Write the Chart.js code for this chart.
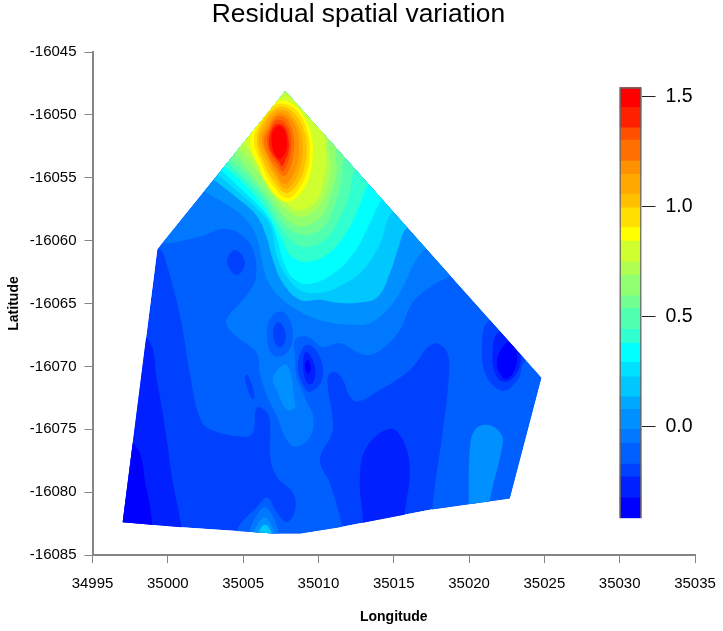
<!DOCTYPE html>
<html>
<head>
<meta charset="utf-8">
<style>
html,body{margin:0;padding:0;background:#fff;width:723px;height:631px;overflow:hidden}
canvas{position:absolute;display:block}
</style>
<script src="https://cdn.jsdelivr.net/npm/chart.js@4/dist/chart.umd.min.js"></script>
</head>
<body>
<canvas id="map" width="723" height="631" style="left:0;top:0"></canvas>
<canvas id="bar" width="123" height="480" style="left:600px;top:60px"></canvas>
<script>
const chartTitle = "Residual spatial variation";
const xAxisTitle = "Longitude";
const yAxisTitle = "Latitude";
const lonTicks = [34995,35000,35005,35010,35015,35020,35025,35030,35035];
const latTicks = [-16045,-16050,-16055,-16060,-16065,-16070,-16075,-16080,-16085];
const legendTicks = [0,0.5,1,1.5];
// colour-bar band edges, bottom to top
const bandEdges = [-0.416,-0.323,-0.227,-0.170,-0.075,-0.012,0.079,0.136,0.227,0.293,0.379,0.443,0.538,0.595,0.690,0.750,0.844,0.905,0.995,1.058,1.147,1.208,1.303,1.359,1.452,1.543];
const bandColors = ["#0000FF","#0020FF","#0040FF","#0060FF","#0078FF","#0090FF","#00A8FF","#00C8FF","#00E0FF","#00FFFF","#30FFD0","#50FFB0","#70FF90","#90FF70","#B0FF50","#D0FF30","#FFFF00","#FFE000","#FFC000","#FFA800","#FF9000","#FF7000","#FF5000","#FF2000","#FF0000"];

// Contour regions: [longitude, latitude]
const outline = [[35007.8,-16048.1],[34999.3,-16060.7],[34997.0,-16082.4],[35000.9,-16082.8],[35004.6,-16083.1],[35007.0,-16083.3],[35008.8,-16083.3],[35011.4,-16082.8],[35017.4,-16081.4],[35022.7,-16080.5],[35024.8,-16070.9]];
const wedgeA = [[34995.5,-16067.1],[34998.55,-16067.7],[34999.3,-16071.3],[34999.9,-16075.6],[35000.3,-16079],[35000.9,-16082.8],[35000.9,-16084.2],[34995.5,-16084.2]];
const wedgeB = [[34995.5,-16076.2],[34997.75,-16076.2],[34998.6,-16079.8],[34998.95,-16082.4],[34998.95,-16084.2],[34995.5,-16084.2]];
const level60 = [[34998.15,-16059.9],[34999.5,-16060.7],[35000,-16062.2],[35000.4,-16063.9],[35000.9,-16066.5],[35001.5,-16070.8],[35002.1,-16074],[35002.8,-16075],[35005,-16075.6],[35005.65,-16075.3],[35005.9,-16073.3],[35006.6,-16073.7],[35006.8,-16075],[35006.8,-16077.2],[35007.25,-16078.8],[35008.3,-16080.05],[35008.45,-16081.4],[35007.9,-16082.4],[35007.25,-16081.65],[35006.6,-16080.45],[35005.9,-16081.2],[35004.6,-16083],[35004.6,-16084.6],[35011.75,-16084.6],[35011.55,-16082.6],[35010.75,-16079.25],[35010.1,-16077.45],[35010.9,-16075.3],[35010.95,-16074.25],[35010.6,-16071.05],[35010.95,-16070.45],[35011.55,-16070.9],[35012.1,-16072.4],[35012.6,-16072.8],[35013.9,-16072],[35016.05,-16070.3],[35017.6,-16068.2],[35018.55,-16068.9],[35018.6,-16071.6],[35018.2,-16075.6],[35017.55,-16081.55],[35017.55,-16084.6],[35026,-16084.6],[35026,-16060.7],[35007.8,-16046.4]];
const bump80 = [[35005.1,-16084.2],[35005.4,-16083.15],[35005.8,-16082.05],[35006.45,-16081.2],[35007,-16082],[35007.4,-16083.4],[35007.45,-16084.2]];
const bumpA0 = [[35005.6,-16084.2],[35005.7,-16083.2],[35006.05,-16082.4],[35006.45,-16082],[35006.8,-16082.45],[35007.1,-16083.4],[35007.1,-16084.2]];
const bumpC0 = [[35005.9,-16084.2],[35006.05,-16083.15],[35006.45,-16082.6],[35006.85,-16083.15],[35006.9,-16084.2]];
const level80 = [[34998.85,-16059.55],[34999.6,-16060.2],[35002.1,-16059.7],[35003.9,-16059.05],[35005.25,-16059.95],[35005.8,-16061.3],[35005.85,-16062.9],[35005.6,-16063.7],[35005,-16064.7],[35003.9,-16066.3],[35004.3,-16067.35],[35005.9,-16068.95],[35006.1,-16070.5],[35006.6,-16072.4],[35007.25,-16074],[35007.9,-16075.85],[35008.55,-16076.4],[35009.45,-16075.6],[35009.65,-16074],[35009.25,-16072.9],[35008.9,-16071.85],[35008.55,-16070.85],[35008.45,-16069.25],[35008.45,-16067.9],[35009.25,-16067.65],[35010.3,-16068.45],[35011.4,-16068.15],[35012.55,-16068.85],[35013.4,-16069.1],[35014.4,-16068.45],[35015.4,-16067.1],[35016.25,-16064.95],[35017.4,-16063.7],[35018.6,-16062.9],[35020.05,-16061.7],[35007.8,-16046.4]];
const levelA0 = [[35001.8,-16055.81],[35002.46,-16056.13],[35004.26,-16057.4],[35005.32,-16058.51],[35005.9,-16059.7],[35006.25,-16061.55],[35006.6,-16063.1],[35007.45,-16064.5],[35008.95,-16065.75],[35010.55,-16066.45],[35012.75,-16066.7],[35013.6,-16066.45],[35014.75,-16065.25],[35015.6,-16063.7],[35016.4,-16061.7],[35017.05,-16060.7],[35018.4,-16059.55],[35007.8,-16046.4]];
const levelC0 = [[35002.33,-16054.62],[35003.06,-16055.17],[35004.52,-16056.53],[35005.85,-16057.96],[35006.51,-16059.55],[35006.98,-16061.53],[35007.6,-16063.3],[35008.75,-16064.7],[35010.1,-16064.7],[35011.25,-16064.95],[35012.55,-16064.95],[35013.9,-16064.5],[35014.75,-16062.55],[35015.4,-16060.2],[35015.85,-16059],[35017.4,-16057.55],[35007.8,-16046.4]];
const levelE0 = [[35002.6,-16054.22],[35003.33,-16054.78],[35004.52,-16055.97],[35005.85,-16057.4],[35006.78,-16058.75],[35007.18,-16060.98],[35007.7,-16062.5],[35008.75,-16063.9],[35010.1,-16064.15],[35011.6,-16063.5],[35012.95,-16062.35],[35014.1,-16060.2],[35014.75,-16057.95],[35016.05,-16056.35],[35007.8,-16046.4]];
const levelCyan = [[35002.93,-16053.82],[35003.59,-16054.46],[35004.66,-16055.65],[35005.85,-16057],[35006.78,-16058.36],[35007.24,-16059.79],[35007.64,-16061.53],[35008.24,-16062.89],[35009.25,-16063.45],[35010.95,-16062.65],[35012.4,-16060.9],[35013.3,-16058.9],[35014.2,-16056.75],[35015.4,-16055.2],[35007.8,-16046.4]];
const levelG1 = [[35003.13,-16053.43],[35003.79,-16054.14],[35004.92,-16055.33],[35006.11,-16056.92],[35006.91,-16058.36],[35007.51,-16059.79],[35008.11,-16061.14],[35009.1,-16061.69],[35010.63,-16061.06],[35011.89,-16059.31],[35012.75,-16057.16],[35013.28,-16055.57],[35014.41,-16053.98],[35007.8,-16046.4]];
const levelG2 = [[35003.34,-16053.03],[35003.99,-16053.82],[35005.18,-16055.17],[35006.38,-16056.76],[35007.18,-16058.36],[35007.91,-16059.63],[35008.57,-16060.35],[35009.37,-16060.5],[35010.43,-16059.94],[35011.42,-16058.2],[35012.09,-16056.13],[35012.42,-16054.38],[35013.76,-16052.79],[35007.8,-16046.4]];
const levelG3 = [[35003.46,-16052.79],[35004.19,-16053.59],[35005.45,-16055.02],[35006.65,-16056.76],[35007.51,-16058.36],[35008.24,-16059.23],[35008.97,-16059.55],[35009.57,-16059.47],[35010.43,-16058.83],[35011.09,-16057.16],[35011.56,-16055.17],[35011.75,-16053.43],[35013.08,-16052],[35007.8,-16046.4]];
const levelG4 = [[35003.73,-16052.47],[35004.52,-16053.19],[35005.78,-16055.02],[35006.91,-16056.76],[35007.84,-16058.2],[35008.57,-16058.83],[35009.17,-16058.83],[35010.23,-16058.04],[35010.83,-16056.37],[35011.22,-16054.38],[35011.22,-16052.63],[35012.62,-16051.2],[35007.8,-16046.4]];
const levelG5 = [[35003.99,-16052.07],[35004.79,-16052.79],[35005.98,-16054.54],[35007.18,-16056.61],[35008.17,-16057.8],[35008.77,-16058.12],[35009.43,-16057.88],[35010.1,-16057.16],[35010.56,-16055.81],[35010.83,-16053.98],[35010.63,-16051.84],[35011.75,-16050.25],[35007.8,-16046.4]];
const levelG6 = [[35004.26,-16051.6],[35005.12,-16052.39],[35005.98,-16053.98],[35006.78,-16055.41],[35007.64,-16056.69],[35008.3,-16057.48],[35008.9,-16057.56],[35009.5,-16057.24],[35010.03,-16056.53],[35010.3,-16055.33],[35010.5,-16053.59],[35010.23,-16051.04],[35009.1,-16049.45],[35007.91,-16048.42],[35006.25,-16048.82]];
const peakY = [[35005.45,-16052.15],[35005.98,-16053.98],[35006.65,-16055.65],[35007.31,-16056.61],[35007.97,-16056.92],[35008.77,-16056.29],[35009.37,-16055.02],[35009.63,-16053.19],[35009.5,-16051.44],[35009.03,-16050.17],[35008.3,-16049.13],[35007.11,-16048.97],[35005.98,-16050.41]];
const peakE = [[35005.72,-16052],[35006.25,-16053.98],[35006.91,-16055.49],[35007.91,-16056.61],[35008.64,-16055.97],[35009.23,-16054.54],[35009.43,-16052.95],[35009.23,-16051.2],[35008.64,-16049.77],[35007.77,-16049.13],[35006.98,-16049.29],[35006.18,-16050.49]];
const peakC = [[35005.92,-16052],[35006.38,-16053.82],[35007.04,-16055.25],[35007.84,-16056.21],[35008.5,-16055.65],[35009.03,-16054.38],[35009.23,-16052.79],[35009.03,-16051.2],[35008.5,-16050.01],[35007.77,-16049.37],[35007.04,-16049.53],[35006.31,-16050.56]];
const peakA = [[35006.05,-16052],[35006.51,-16053.59],[35007.18,-16055.02],[35007.77,-16055.89],[35008.37,-16055.33],[35008.84,-16053.98],[35008.97,-16052.63],[35008.77,-16051.2],[35008.3,-16050.17],[35007.71,-16049.61],[35007.04,-16049.77],[35006.45,-16050.72]];
const peak9 = [[35006.25,-16052],[35006.65,-16053.43],[35007.24,-16054.78],[35007.77,-16055.49],[35008.24,-16054.94],[35008.64,-16053.59],[35008.7,-16052.39],[35008.57,-16051.2],[35008.17,-16050.33],[35007.64,-16049.85],[35007.11,-16050.01],[35006.58,-16050.88]];
const peak7 = [[35006.38,-16052],[35006.71,-16053.35],[35007.24,-16054.3],[35007.71,-16054.86],[35008.11,-16054.22],[35008.37,-16052.95],[35008.37,-16051.68],[35008.04,-16050.56],[35007.58,-16050.09],[35007.11,-16050.25],[35006.71,-16051.04]];
const peak5 = [[35006.58,-16052],[35006.84,-16053.19],[35007.31,-16053.98],[35007.64,-16054.46],[35007.97,-16053.82],[35008.17,-16052.79],[35008.17,-16051.68],[35007.91,-16050.8],[35007.51,-16050.41],[35007.11,-16050.49],[35006.78,-16051.2]];
const peak2 = [[35006.71,-16052.23],[35006.91,-16053.03],[35007.38,-16053.74],[35007.58,-16054.06],[35007.84,-16053.51],[35008.04,-16052.63],[35007.97,-16051.68],[35007.77,-16050.96],[35007.44,-16050.72],[35007.11,-16050.8],[35006.84,-16051.34]];
const peak0 = [[35006.91,-16052.23],[35007.04,-16052.95],[35007.38,-16053.51],[35007.71,-16053.19],[35007.91,-16052.47],[35007.84,-16051.6],[35007.64,-16051.04],[35007.38,-16050.88],[35007.11,-16051.04],[35006.91,-16051.6]];
const lowA = [[35003.93,-16061.69],[35004.46,-16060.74],[35005.12,-16061.69],[35004.6,-16062.73]];
const lowB60 = [[35006.58,-16067.34],[35006.98,-16065.91],[35007.77,-16065.75],[35008.3,-16067.34],[35007.91,-16068.93],[35006.98,-16069.09]];
const lowB40 = [[35006.98,-16067.34],[35007.31,-16066.46],[35007.77,-16067.1],[35007.77,-16068.13],[35007.31,-16068.45]];
const lowDot = [[35005.12,-16070.83],[35005.32,-16070.68],[35005.78,-16072.42],[35005.58,-16072.58],[35005.25,-16071.63]];
const lobeMid = [[35006.98,-16070.83],[35007.91,-16069.88],[35008.44,-16072.9],[35008.44,-16073.3],[35007.91,-16073.46],[35007.31,-16072.11]];
const lowC40 = [[35008.64,-16069.72],[35009.23,-16068.29],[35010.1,-16069.24],[35010.23,-16071.07],[35009.43,-16072.03],[35008.9,-16071.31]];
const lowC20 = [[35008.97,-16069.72],[35009.23,-16068.85],[35009.77,-16070.04],[35009.63,-16071.31],[35009.23,-16071.31]];
const lowC00 = [[35009.1,-16069.88],[35009.3,-16069.48],[35009.5,-16070.12],[35009.3,-16070.6]];
const lowBottom = [[35014.74,-16074.97],[35013.22,-16076.4],[35012.75,-16078.8],[35012.95,-16082.2],[35012.95,-16084.2],[35015.73,-16084.2],[35015.73,-16081.8],[35016.07,-16078.24],[35015.6,-16075.84]];
const lobeRight = [[35020.05,-16076.64],[35020.38,-16075.05],[35021.18,-16074.65],[35022.04,-16075.21],[35022.24,-16076.08],[35021.38,-16080.77],[35021.38,-16083],[35019.98,-16083],[35019.98,-16081]];
const lowD40 = [[35022.7,-16066.3],[35021.24,-16066.46],[35020.85,-16068.69],[35021.18,-16070.83],[35022.24,-16071.95],[35023.23,-16071.07],[35023.57,-16069.88],[35024.37,-16067.9]];
const lowD20 = [[35021.91,-16067.34],[35021.58,-16068.69],[35021.71,-16070.52],[35022.37,-16071.24],[35023.17,-16070.52],[35023.43,-16069.25],[35023.04,-16067.1]];
const lowD00 = [[35022.7,-16068.05],[35022.11,-16068.69],[35021.84,-16069.72],[35022.11,-16070.68],[35022.5,-16070.99],[35023.04,-16070.28],[35023.17,-16068.93]];

// paint order: each region over the previous; colour is an index into bandColors
const layers = [
  [outline,2],[wedgeA,1],[wedgeB,0],[level60,3],[bump80,4],[bumpA0,5],[bumpC0,7],
  [level80,4],[levelA0,5],[levelC0,7],[levelE0,8],[levelCyan,9],[levelG1,10],[levelG2,11],[levelG3,12],[levelG4,13],[levelG5,14],[levelG6,15],
  [peakY,16],[peakE,17],[peakC,18],[peakA,19],[peak9,20],[peak7,21],[peak5,22],[peak2,23],[peak0,24],
  [lowA,2],[lowB60,3],[lowB40,2],[lowDot,2],[lobeMid,5],[lowC40,2],[lowC20,1],[lowC00,0],
  [lowBottom,1],[lobeRight,5],[lowD40,2],[lowD20,1],[lowD00,0]
];

const FONT = "'Liberation Sans', Arial, sans-serif";
const AXIS_GREY = "#858585";

// repeat the seam points so a closed curve stays smooth where it joins
const smoothLoop = pts => [pts[pts.length-1], ...pts, pts[0], pts[1]];

const mapHelpers = {
  id: 'mapHelpers',
  beforeDraw(chart){
    chart.titleBlock.left = 0;
    chart.titleBlock.right = 717;
  },
  beforeDatasetsDraw(chart){
    const c = chart.ctx, xs = chart.scales.x, ys = chart.scales.y;
    c.save();
    c.beginPath();
    outline.forEach((p,i)=>{
      const px = xs.getPixelForValue(p[0]), py = ys.getPixelForValue(p[1]);
      i ? c.lineTo(px,py) : c.moveTo(px,py);
    });
    c.closePath();
    c.clip();
  },
  afterDatasetsDraw(chart){ chart.ctx.restore(); }
};

new Chart(document.getElementById('map'), {
  type: 'scatter',
  plugins: [mapHelpers],
  data: {
    datasets: layers.slice().reverse().map(l => ({
      data: (l[0] === outline ? l[0] : smoothLoop(l[0])).map(p => ({x:p[0], y:p[1]})),
      showLine: true,
      fill: 'shape',
      backgroundColor: bandColors[l[1]],
      borderWidth: 0,
      pointRadius: 0,
      tension: l[0] === outline ? 0 : 0.4,
      clip: false
    }))
  },
  options: {
    responsive: false,
    animation: false,
    events: [],
    layout: {padding: {left:0, right:28, top:0, bottom:0}},
    plugins: {
      legend: {display:false},
      tooltip: {enabled:false},
      title: {display:true, text:chartTitle, color:'#000',
        font:{family:FONT, size:26.4, weight:'normal', lineHeight:1}, padding:{top:2,bottom:23.6}}
    },
    scales: {
      x: {
        type:'linear', min:lonTicks[0], max:lonTicks[lonTicks.length-1],
        afterBuildTicks: s => { s.ticks = lonTicks.map(v=>({value:v})); },
        afterFit: s => { s.height = 76; s.paddingLeft = 0; s.paddingRight = 0; },
        grid:{drawOnChartArea:false, drawTicks:true, tickLength:8, tickColor:AXIS_GREY, tickWidth:1},
        border:{color:AXIS_GREY, width:2},
        ticks:{color:'#000', font:{family:FONT,size:15}, padding:12, maxRotation:0, autoSkip:false, callback:v=>String(v)},
        title:{display:true, text:xAxisTitle, color:'#000', font:{family:FONT,size:14,weight:'bold'}, padding:{top:0,bottom:5}}
      },
      y: {
        type:'linear', min:latTicks[latTicks.length-1], max:latTicks[0],
        afterBuildTicks: s => { s.ticks = latTicks.map(v=>({value:v})); },
        afterFit: s => { s.width = 92.5; s.paddingTop = 0; s.paddingBottom = 0; },
        grid:{drawOnChartArea:false, drawTicks:true, tickLength:8, tickColor:AXIS_GREY, tickWidth:1},
        border:{color:AXIS_GREY, width:2},
        ticks:{color:'#000', font:{family:FONT,size:15}, padding:8, autoSkip:false, callback:v=>String(v)},
        title:{display:true, text:yAxisTitle, color:'#000', font:{family:FONT,size:14,weight:'bold'}, padding:{top:6,bottom:0}}
      }
    }
  }
});

const bandSets = bandColors.map((col,i)=>({
  data:[[bandEdges[i],bandEdges[i+1]]],
  backgroundColor:col, borderWidth:0, grouped:false, barPercentage:1, categoryPercentage:1
}));
bandSets.unshift({
  data:[[bandEdges[0],bandEdges[bandEdges.length-1]]],
  backgroundColor:'rgba(0,0,0,0)', borderColor:'#666', borderWidth:1, grouped:false, barPercentage:1, categoryPercentage:1
});

new Chart(document.getElementById('bar'), {
  type:'bar',
  data:{labels:['band'], datasets:bandSets},
  options:{
    responsive:false, animation:false, events:[],
    layout:{padding:{left:19.5, right:0, top:27.3, bottom:21.7}},
    plugins:{legend:{display:false}, tooltip:{enabled:false}},
    scales:{
      x:{display:false},
      y:{
        position:'right', min:bandEdges[0], max:bandEdges[bandEdges.length-1],
        afterBuildTicks: s => { s.ticks = legendTicks.map(v=>({value:v})); },
        afterFit: s => { s.width = 81.5; },
        grid:{drawOnChartArea:false, drawTicks:true, tickLength:14, tickColor:'#222', tickWidth:1},
        border:{display:false},
        ticks:{color:'#000', font:{family:FONT,size:19.5}, padding:10, autoSkip:false, callback:v=>Number(v).toFixed(1)}
      }
    }
  }
});
</script>
</body>
</html>
